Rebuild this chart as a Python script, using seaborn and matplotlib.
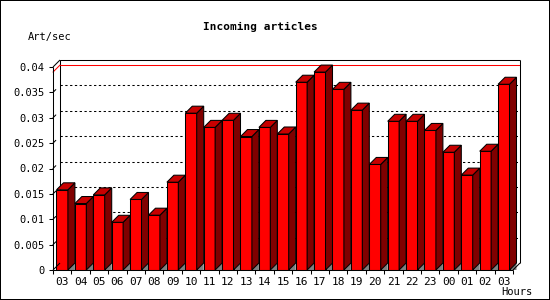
import numpy as np
import pandas as pd
import matplotlib
matplotlib.use("Agg")
import matplotlib.pyplot as plt
import seaborn as sns
from matplotlib.patches import Polygon

# ---- data ----
hours = ["03", "04", "05", "06", "07", "08", "09", "10", "11", "12", "13", "14",
         "15", "16", "17", "18", "19", "20", "21", "22", "23", "00", "01", "02", "03"]
rates = [0.0158, 0.0131, 0.0148, 0.0094, 0.0139, 0.0108, 0.0173, 0.0309, 0.0281,
         0.0295, 0.0263, 0.0281, 0.0268, 0.0370, 0.0390, 0.0356, 0.0315, 0.0208,
         0.0293, 0.0293, 0.0275, 0.0232, 0.0187, 0.0234, 0.0366]
yticks = [0, 0.005, 0.01, 0.015, 0.02, 0.025, 0.03, 0.035, 0.04]
ytick_labels = ["0", "0.005", "0.01", "0.015", "0.02", "0.025", "0.03", "0.035", "0.04"]
title = "Incoming articles"
ylabel = "Art/sec"
xlabel = "Hours"

# ---- geometry (pixels) ----
W, H = 550, 300
LEFT_PX, BOTTOM_PX = 53, 270          # front plane origin (from top)
PLOT_W_PX, PLOT_H_PX = 460, 203       # front plane size
DEPTH_PX = 7
ymax = 0.04
n = len(hours)
dx = DEPTH_PX / (PLOT_W_PX / n)
dy = ymax * DEPTH_PX / PLOT_H_PX

sns.set_theme(style="white")
plt.rcParams["font.family"] = ["DejaVu Sans Mono", "DejaVu Sans"]

fig = plt.figure(figsize=(W / 100, H / 100), dpi=100)
fig.patch.set_facecolor("white")
fig.patch.set_edgecolor("black")
fig.patch.set_linewidth(1.4)

ax = fig.add_axes([LEFT_PX / W, (H - BOTTOM_PX) / H,
                   (PLOT_W_PX + DEPTH_PX) / W, (PLOT_H_PX + DEPTH_PX) / H])
ax.set_facecolor("white")

df = pd.DataFrame({"slot": np.arange(n), "rate": rates})
sns.barplot(data=df, x="slot", y="rate", ax=ax, color="#ff0000", saturation=1,
            width=0.62, edgecolor="black", linewidth=0.75, errorbar=None, zorder=3)

ax.set_xlim(-0.5, n - 0.5 + dx)
ax.set_ylim(0, ymax + dy)
for s in ax.spines.values():
    s.set_visible(False)

lw = 0.75
# 3D faces
for i, p in enumerate(ax.patches):
    x0, w, h = p.get_x(), p.get_width(), p.get_height()
    x1 = x0 + w
    tri = Polygon([(x1, 0), (x1 + dx, dy), (x1 + dx, 0)], closed=True,
                  facecolor="#808080", edgecolor="none", zorder=2)
    side = Polygon([(x1, 0), (x1 + dx, dy), (x1 + dx, h + dy), (x1, h)], closed=True,
                   facecolor="#800000", edgecolor="black", linewidth=lw, zorder=3 + i * 0.01)
    top = Polygon([(x0, h), (x1, h), (x1 + dx, h + dy), (x0 + dx, h + dy)], closed=True,
                  facecolor="#c80000", edgecolor="black", linewidth=lw, zorder=3 + i * 0.01)
    ax.add_patch(tri)
    ax.add_patch(side)
    ax.add_patch(top)
    p.set_zorder(3 + i * 0.01)

xl, xr = -0.5, n - 0.5
# grid lines on back wall
for v in yticks[1:-1]:
    ax.plot([xl + dx, xr + dx], [v + dy, v + dy], color="black", lw=lw,
            dashes=(2.2, 2.4), zorder=1)
    ax.plot([xl, xl + dx * 0.4], [v, v + dy * 0.4], color="black", lw=lw,
            zorder=1, clip_on=False)
# red max line
vmax = max(rates)
ax.plot([xl + dx, xr + dx], [vmax + dy, vmax + dy], color="#ff0000", lw=lw, zorder=1.5)
ax.plot([xl, xl + dx], [vmax, vmax + dy], color="#ff0000", lw=lw, zorder=1.5, clip_on=False)

# frame
fk = dict(color="black", lw=lw, zorder=5, clip_on=False, solid_capstyle="butt")
ax.plot([xl, xl], [0, ymax], **fk)
ax.plot([xl, xr], [0, 0], **fk)
ax.plot([xl + dx, xr + dx], [ymax + dy, ymax + dy], **fk)
ax.plot([xl + dx, xl + dx], [dy, ymax + dy], color="black", lw=lw, zorder=1)
ax.plot([xr + dx, xr + dx], [dy, ymax + dy], **fk)
ax.plot([xl, xl + dx], [ymax, ymax + dy], **fk)
ax.plot([xl, xl + dx], [0, dy], **fk)
ax.plot([xr, xr + dx], [0, dy], **fk)

# ticks
ax.set_yticks(yticks, ytick_labels)
ax.tick_params(axis="y", direction="out", length=3, width=lw, color="black",
               pad=3, labelsize=7.5, left=True, labelcolor="black")
ax.set_xticks(np.arange(n), hours)
ax.set_xticks(np.arange(n + 1) - 0.5, minor=True)
ax.tick_params(axis="x", which="major", length=0, pad=5, labelsize=8, labelcolor="black")
ax.tick_params(axis="x", which="minor", direction="out", length=3, width=lw,
               color="black", bottom=True)
ax.set_xlabel("")
ax.set_ylabel("")

fig.text(260 / W, 1 - 27 / H, title, ha="center", va="center",
         fontsize=8, fontweight="bold", color="black")
fig.text(28 / W, 1 - 37 / H, ylabel, ha="left", va="center", fontsize=7.5, color="black")
fig.text(533 / W, 1 - 292 / H, xlabel, ha="right", va="center", fontsize=7.5, color="black")

fig.savefig("out.png", dpi=100, facecolor="white", edgecolor="black")
